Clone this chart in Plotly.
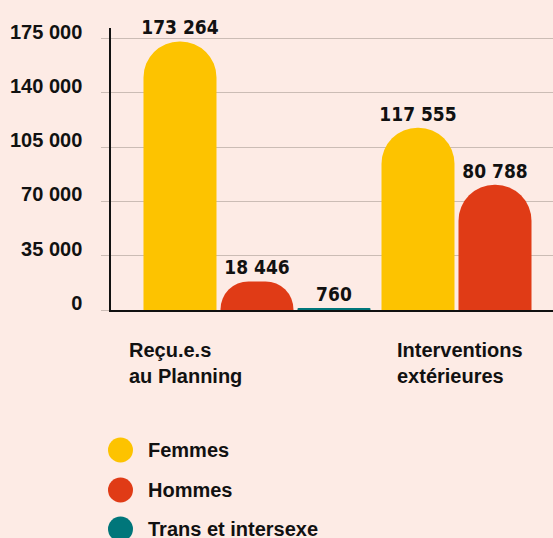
import plotly.graph_objects as go

categories = ["Reçu.e.s<br>au Planning", "Interventions<br>extérieures"]
series_names = ["Femmes", "Hommes", "Trans et intersexe"]
femmes = [173264, 117555]
hommes = [18446, 80788]
trans = [760, None]
y_ticks = [0, 35000, 70000, 105000, 140000, 175000]

colors = ["#fdc300", "#e03b16", "#00767a"]
bg = "#fdebe5"
grid = "#cbbcb5"
label_font = "DejaVu Sans Condensed, Liberation Sans Narrow, sans-serif"
main_font = "Liberation Sans, Arial, Helvetica, sans-serif"

W, H = 553, 538
ML, MR, MT, MB = 111, 0, 28, 228
PW, PH = W - ML - MR, H - MT - MB

fig = go.Figure()
for name, vals, col in zip(series_names, [femmes, hommes, trans], colors):
    fig.add_trace(go.Bar(
        x=categories, y=vals, name=name,
        marker=dict(color=col, cornerradius="50%", line=dict(width=0)),
        texttemplate="%{y:,}", textposition="outside", constraintext="none",
        textfont=dict(family=label_font, size=19, color="#111111", weight="bold"),
        cliponaxis=False, showlegend=False,
    ))

annotations = []
# category labels (left aligned under each group)
for cat, shift in zip(categories, [-130, -100]):
    annotations.append(dict(
        x=cat, xref="x", y=-0.095, yref="paper", xanchor="left", yanchor="top",
        xshift=shift, text=cat, showarrow=False, align="left",
        font=dict(family=main_font, size=20, color="#111111", weight="bold"),
    ))

shapes = []
legend_y = [450, 490, 529]
for name, col, py in zip(series_names, colors, legend_y):
    yp = (MT + PH - py) / PH
    xp = (120.5 - ML) / PW
    shapes.append(dict(
        type="circle", xref="paper", yref="paper", xsizemode="pixel", ysizemode="pixel",
        xanchor=xp, yanchor=yp, x0=-12.5, x1=12.5, y0=-12.5, y1=12.5,
        fillcolor=col, line=dict(width=0), layer="above",
    ))
    annotations.append(dict(
        x=(146 - ML) / PW, xref="paper", y=yp, yref="paper", xanchor="left", yanchor="middle",
        text=name, showarrow=False,
        font=dict(family=main_font, size=20, color="#111111", weight="bold"),
    ))

fig.update_layout(
    width=W, height=H,
    margin=dict(l=ML, r=MR, t=MT, b=MB, pad=0),
    paper_bgcolor=bg, plot_bgcolor=bg,
    barmode="group", bargap=0.0294, bargroupgap=0.052,
    separators=", ",
    showlegend=False,
    annotations=annotations, shapes=shapes,
    font=dict(family=main_font, color="#111111"),
)
fig.update_xaxes(
    range=[-0.6134, 1.2437], showticklabels=False, ticks="",
    showgrid=False, showline=True, linecolor="#111111", linewidth=2, zeroline=False,
)
fig.update_yaxes(
    range=[0, 181900], tickvals=y_ticks, tickformat=",",
    showgrid=True, gridcolor=grid, gridwidth=1,
    ticks="outside", ticklen=8, tickcolor=grid,
    ticklabelstandoff=15, ticklabelshift=-7,
    showline=True, linecolor="#111111", linewidth=1.5, zeroline=False,
    tickfont=dict(family=main_font, size=20, color="#111111", weight="bold"),
)

fig.write_html(
    "out.html",
    config={"displayModeBar": False},
    post_script="document.body.style.margin='0';document.body.style.background='%s';" % bg,
)
